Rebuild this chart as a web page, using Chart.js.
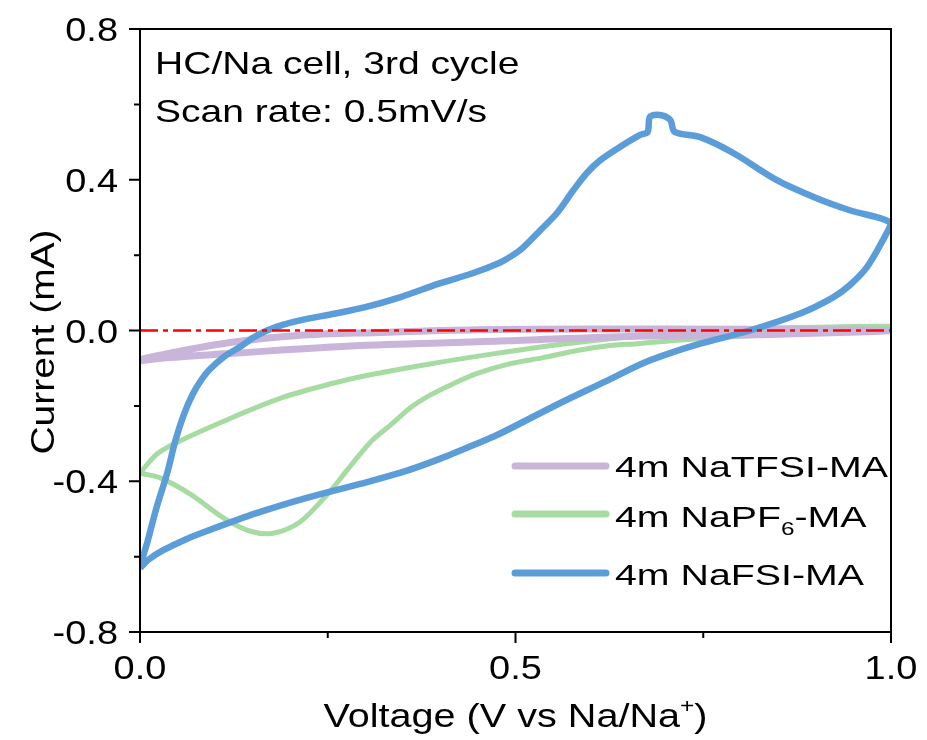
<!DOCTYPE html>
<html><head><meta charset="utf-8">
<script src="https://cdn.jsdelivr.net/npm/chart.js@4.4.0/dist/chart.umd.min.js"></script>
<style>html,body{margin:0;padding:0;background:#fff;}canvas{display:block;}</style>
</head><body>
<canvas id="c" width="927" height="740"></canvas>
<script>
// ---------- data ----------
const seriesLabels = ['4m NaTFSI-MA', '4m NaPF6-MA', '4m NaFSI-MA'];

// 4m NaFSI-MA (blue): sweep 0 -> 1 V then back 1 -> 0 V
const fsiV = [0, 0.004, 0.010, 0.022, 0.036, 0.047, 0.058, 0.070, 0.082, 0.093, 0.113, 0.133, 0.150, 0.169, 0.190, 0.213, 0.260, 0.300, 0.346, 0.399, 0.443, 0.479, 0.495, 0.510, 0.533, 0.555, 0.577, 0.595, 0.613, 0.639, 0.666, 0.676, 0.679, 0.692, 0.706, 0.712, 0.746, 0.790, 0.848, 0.901, 0.945, 1.000,
              0.989, 0.968, 0.945, 0.923, 0.879, 0.812, 0.746, 0.700, 0.666, 0.620, 0.559, 0.479, 0.457, 0.400, 0.346, 0.293, 0.222, 0.156, 0.089, 0.060, 0.031, 0.012, 0];
const fsiI = [-0.630, -0.600, -0.560, -0.470, -0.380, -0.293, -0.225, -0.170, -0.130, -0.103, -0.068, -0.044, -0.020, 0.000, 0.015, 0.027, 0.045, 0.062, 0.088, 0.125, 0.152, 0.180, 0.198, 0.220, 0.266, 0.311, 0.372, 0.418, 0.452, 0.487, 0.519, 0.527, 0.567, 0.572, 0.559, 0.527, 0.513, 0.471, 0.399, 0.351, 0.319, 0.285,
              0.239, 0.168, 0.120, 0.088, 0.045, 0.000, -0.035, -0.064, -0.090, -0.135, -0.193, -0.274, -0.293, -0.340, -0.378, -0.407, -0.444, -0.484, -0.532, -0.555, -0.583, -0.607, -0.630];

// 4m NaPF6-MA (green)
const pf6V = [0, 0.023, 0.053, 0.124, 0.191, 0.257, 0.300, 0.382, 0.470, 0.559, 0.648, 0.750, 0.850, 1.000,
              0.900, 0.800, 0.720, 0.662, 0.626, 0.582, 0.537, 0.493, 0.449, 0.413, 0.382, 0.360, 0.337, 0.310, 0.293, 0.276, 0.249, 0.213, 0.177, 0.146, 0.111, 0.067, 0.027, 0.004, 0];
const pf6I = [-0.378, -0.327, -0.293, -0.230, -0.177, -0.140, -0.120, -0.090, -0.062, -0.037, -0.017, 0.000, 0.007, 0.011,
              -0.004, -0.015, -0.025, -0.035, -0.040, -0.053, -0.072, -0.088, -0.114, -0.145, -0.176, -0.205, -0.245, -0.290, -0.328, -0.370, -0.436, -0.508, -0.538, -0.532, -0.497, -0.434, -0.391, -0.380, -0.378];

// 4m NaTFSI-MA (purple)
const tfsiV = [0, 0.040, 0.120, 0.210, 0.320, 0.450, 0.600, 0.800, 1.000,
               0.850, 0.660, 0.480, 0.293, 0.120, 0.040, 0];
const tfsiI = [-0.077, -0.060, -0.032, -0.013, -0.005, 0.002, 0.004, 0.003, 0.000,
               -0.010, -0.015, -0.028, -0.040, -0.061, -0.072, -0.080];

const zeroV = [0, 1];
const zeroI = [0, 0];

const xTickMajor = [0, 0.5, 1.0];
const xTickMinor = [0.25, 0.75];
const yTickMajor = [-0.8, -0.4, 0.0, 0.4, 0.8];
const yTickMinor = [-0.6, -0.2, 0.2, 0.6];

const xTitle = [{t: 'Voltage (V vs Na/Na'}, {t: '+', s: 'sup'}, {t: ')'}];
const yTitle = 'Current (mA)';
const noteLines = ['HC/Na cell, 3rd cycle', 'Scan rate: 0.5mV/s'];
const legendParts = [
  [{t: '4m NaTFSI-MA'}],
  [{t: '4m NaPF'}, {t: '6', s: 'sub'}, {t: '-MA'}],
  [{t: '4m NaFSI-MA'}]
];

// ---------- helpers ----------
const pts = (xs, ys) => xs.map((x, i) => ({x: x, y: ys[i]}));
const FONT = '"Liberation Sans", Arial, sans-serif';
const C_BLUE = '#5B9DD9', C_GREEN = '#A6DBA2', C_PURPLE = '#C9B5DA', C_RED = '#FF0000';

function richText(ctx, parts, x, y, size, align, sx) {
  ctx.save();
  ctx.translate(x, y);
  ctx.scale(sx, 1);
  let w = 0;
  const items = parts.map(p => {
    const fs = p.s ? size * 0.62 : size;
    ctx.font = fs + 'px ' + FONT;
    const mw = ctx.measureText(p.t).width;
    const it = {t: p.t, fs: fs, dy: p.s === 'sub' ? size * 0.28 : (p.s === 'sup' ? -size * 0.42 : 0), w: mw};
    w += mw;
    return it;
  });
  let cx = align === 'center' ? -w / 2 : (align === 'right' ? -w : 0);
  ctx.textAlign = 'left';
  ctx.fillStyle = '#000';
  for (const it of items) {
    ctx.font = it.fs + 'px ' + FONT;
    ctx.fillText(it.t, cx, it.dy);
    cx += it.w;
  }
  ctx.restore();
}

const decor = {
  id: 'decor',
  afterDatasetsDraw(chart) {
    const ctx = chart.ctx, a = chart.chartArea;
    const xs = chart.scales.x, ys = chart.scales.y;
    ctx.save();
    ctx.strokeStyle = '#000';
    ctx.lineWidth = 2;
    ctx.strokeRect(a.left, a.top, a.right - a.left, a.bottom - a.top);
    ctx.beginPath();
    for (const v of xTickMajor) { const p = xs.getPixelForValue(v); ctx.moveTo(p, a.bottom); ctx.lineTo(p, a.bottom + 11); }
    for (const v of xTickMinor) { const p = xs.getPixelForValue(v); ctx.moveTo(p, a.bottom); ctx.lineTo(p, a.bottom + 6); }
    for (const v of yTickMajor) { const p = ys.getPixelForValue(v); ctx.moveTo(a.left, p); ctx.lineTo(a.left - 11, p); }
    for (const v of yTickMinor) { const p = ys.getPixelForValue(v); ctx.moveTo(a.left, p); ctx.lineTo(a.left - 6, p); }
    ctx.stroke();

    ctx.textBaseline = 'alphabetic';
    for (const v of xTickMajor) {
      richText(ctx, [{t: v.toFixed(1)}], xs.getPixelForValue(v), a.bottom + 47, 33, 'center', 1.15);
    }
    for (const v of yTickMajor) {
      richText(ctx, [{t: v.toFixed(1)}], a.left - 22, ys.getPixelForValue(v) + 12, 33, 'right', 1.15);
    }
    // axis titles
    richText(ctx, xTitle, (a.left + a.right) / 2, 727, 33, 'center', 1.2);
    ctx.save();
    ctx.translate(54, 342);
    ctx.rotate(-Math.PI / 2);
    richText(ctx, [{t: yTitle}], 0, 0, 33, 'center', 1.18);
    ctx.restore();
    // annotation
    richText(ctx, [{t: noteLines[0]}], 155, 74, 32, 'left', 1.22);
    richText(ctx, [{t: noteLines[1]}], 155, 122, 32, 'left', 1.22);

    // legend
    const ds = chart.data.datasets;
    const rows = [{d: 1, ly: 466, by: 477}, {d: 2, ly: 514, by: 527}, {d: 3, ly: 573, by: 585}];
    rows.forEach((r, i) => {
      ctx.save();
      ctx.strokeStyle = ds[r.d].borderColor;
      ctx.lineWidth = 7;
      ctx.lineCap = 'round';
      ctx.beginPath();
      ctx.moveTo(515, r.ly);
      ctx.lineTo(606, r.ly);
      ctx.stroke();
      ctx.restore();
      richText(ctx, legendParts[i], 615, r.by, 30, 'left', 1.31);
    });
    ctx.restore();
  }
};

new Chart(document.getElementById('c'), {
  type: 'scatter',
  data: {
    datasets: [
      {label: 'zero', data: pts(zeroV, zeroI), showLine: true, borderColor: C_RED, borderWidth: 2.5, borderDash: [18, 5, 5, 5], pointRadius: 0, order: 0},
      {label: seriesLabels[0], data: pts(tfsiV, tfsiI), showLine: true, borderColor: C_PURPLE, borderWidth: 7, pointRadius: 0, tension: 0.35, order: 2},
      {label: seriesLabels[1], data: pts(pf6V, pf6I), showLine: true, borderColor: C_GREEN, borderWidth: 5, pointRadius: 0, tension: 0.3, order: 3},
      {label: seriesLabels[2], data: pts(fsiV, fsiI), showLine: true, borderColor: C_BLUE, borderWidth: 6.5, pointRadius: 0, tension: 0.3, order: 1}
    ]
  },
  options: {
    responsive: false,
    animation: false,
    devicePixelRatio: 1,
    layout: {padding: {top: 29, right: 36, left: 0, bottom: 0}},
    plugins: {legend: {display: false}, tooltip: {enabled: false}},
    scales: {
      x: {
        type: 'linear', min: 0, max: 1,
        grid: {display: false}, border: {display: false},
        ticks: {display: false, stepSize: 0.25},
        afterFit: s => { s.height = 108; }
      },
      y: {
        type: 'linear', min: -0.8, max: 0.8,
        grid: {display: false}, border: {display: false},
        ticks: {display: false, stepSize: 0.2},
        afterFit: s => { s.width = 140; }
      }
    }
  },
  plugins: [decor]
});
</script>
</body></html>
